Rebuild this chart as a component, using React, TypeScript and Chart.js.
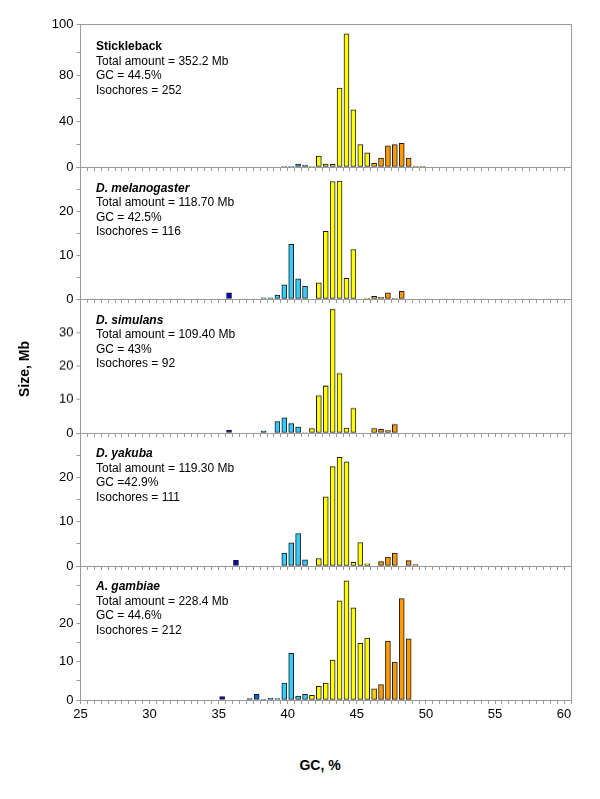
import { useEffect, useRef } from "react"
import { Chart, registerables, type Plugin } from "chart.js"

Chart.register(...registerables)

// GC bin centres (%) and isochore size (Mb) per genome
const sticklebackGC = [39.75, 40.25, 40.75, 41.25, 41.75, 42.25, 42.75, 43.25, 43.75, 44.25, 44.75, 45.25, 45.75, 46.25, 46.75, 47.25, 47.75, 48.25, 48.75, 49.25, 49.75]
const sticklebackSize = [0.5, 0.5, 2.6, 1.7, 0.5, 9.6, 2.6, 2.3, 69, 116.5, 50, 19.6, 12.3, 3.2, 7.9, 18.4, 19.6, 20.7, 7.9, 0.9, 0.5]

const melanogasterGC = [35.75, 38.25, 38.75, 39.25, 39.75, 40.25, 40.75, 41.25, 42.25, 42.75, 43.25, 43.75, 44.25, 44.75, 45.75, 46.25, 46.75, 47.25, 47.75, 48.25]
const melanogasterSize = [1.4, 0.25, 0.25, 0.9, 3.2, 12.4, 4.6, 2.9, 3.65, 15.4, 26.7, 26.8, 4.7, 11.25, 0.1, 0.6, 0.4, 1.4, 0.1, 1.75]

const simulansGC = [35.75, 38.25, 39.25, 39.75, 40.25, 40.75, 41.25, 41.75, 42.25, 42.75, 43.25, 43.75, 44.25, 44.75, 46.25, 46.75, 47.25, 47.75]
const simulansSize = [0.8, 0.6, 3.4, 4.6, 2.8, 1.8, 0.15, 1.3, 11.2, 14, 37, 17.8, 1.5, 7.35, 1.3, 1.1, 0.7, 2.5]

const yakubaGC = [36.25, 39.75, 40.25, 40.75, 41.25, 42.25, 42.75, 43.25, 43.75, 44.25, 44.75, 45.25, 45.75, 46.75, 47.25, 47.75, 48.75, 49.25]
const yakubaSize = [1.3, 2.9, 5.2, 7.3, 1.4, 1.7, 15.6, 22.4, 24.5, 23.5, 0.8, 5.3, 0.5, 1.0, 2.0, 2.9, 1.2, 0.3]

const gambiaeGC = [35.25, 37.25, 37.75, 38.25, 38.75, 39.25, 39.75, 40.25, 40.75, 41.25, 41.75, 42.25, 42.75, 43.25, 43.75, 44.25, 44.75, 45.25, 45.75, 46.25, 46.75, 47.25, 47.75, 48.25, 48.75]
const gambiaeSize = [0.9, 0.35, 1.5, 0.15, 0.45, 0.35, 4.45, 12.2, 1.0, 1.5, 1.2, 3.6, 4.45, 10.4, 25.9, 31.1, 24.1, 14.8, 16.2, 2.9, 4.0, 15.4, 9.9, 26.5, 16.0]

// axis ticks
const gcTickLabels = [25, 30, 35, 40, 45, 50, 55, 60]
const sticklebackTicks = [0, 20, 40, 60, 80, 100, 125]
const sticklebackTickLabels = ["0", "", "40", "", "80", "", "100"]
const thirtyTicks = [0, 5, 10, 15, 20, 25, 30]
const thirtyTickLabels = ["0", "", "10", "", "20", "", ""]
const fortyTicks = [0, 5, 10, 15, 20, 25, 30, 35, 40]
const fortyTickLabels = ["0", "", "10", "", "20", "", "30", "", ""]
const thirtyFiveTicks = [0, 5, 10, 15, 20, 25, 30, 35]
const thirtyFiveTickLabels = ["0", "", "10", "", "20", "", "", ""]

const FONT = "'Liberation Sans', Arial, sans-serif"
const AXIS = "#9a9a9a"
const PAD = 12

interface Panel {
  name: string
  italic: boolean
  lines: string[]
  gc: number[]
  size: number[]
  max: number
  ticks: number[]
  labels: string[]
  top: number
  bottom: number
}

const panels: Panel[] = [
  { name: "Stickleback", italic: false, lines: ["Total amount = 352.2 Mb", "GC = 44.5%", "Isochores = 252"], gc: sticklebackGC, size: sticklebackSize, max: 125, ticks: sticklebackTicks, labels: sticklebackTickLabels, top: 24.3, bottom: 167.3 },
  { name: "D. melanogaster", italic: true, lines: ["Total amount = 118.70 Mb", "GC = 42.5%", "Isochores = 116"], gc: melanogasterGC, size: melanogasterSize, max: 30, ticks: thirtyTicks, labels: thirtyTickLabels, top: 167.3, bottom: 299.3 },
  { name: "D. simulans", italic: true, lines: ["Total amount = 109.40 Mb", "GC = 43%", "Isochores = 92"], gc: simulansGC, size: simulansSize, max: 40, ticks: fortyTicks, labels: fortyTickLabels, top: 299.3, bottom: 432.7 },
  { name: "D. yakuba", italic: true, lines: ["Total amount = 119.30 Mb", "GC =42.9%", "Isochores = 111"], gc: yakubaGC, size: yakubaSize, max: 30, ticks: thirtyTicks, labels: thirtyTickLabels, top: 432.7, bottom: 565.7 },
  { name: "A. gambiae", italic: true, lines: ["Total amount = 228.4 Mb", "GC = 44.6%", "Isochores = 212"], gc: gambiaeGC, size: gambiaeSize, max: 35, ticks: thirtyFiveTicks, labels: thirtyFiveTickLabels, top: 565.7, bottom: 700 },
]

// colour of a bar by its GC class
function binColor(gc: number) {
  if (gc < 37) return "#0000cc"
  if (gc < 38) return "#0066cc"
  if (gc < 39) return "#0099cc"
  if (gc < 41.5) return "#33ccff"
  if (gc < 46) return "#ffff00"
  if (gc < 46.5) return "#ffcc00"
  return "#ff9900"
}

const framePlugin: Plugin<"bar"> = {
  id: "frame",
  afterDraw(chart, _args, opts: any) {
    const { ctx, chartArea: a } = chart
    const r = Math.round(a.right) + 0.5
    ctx.save()
    ctx.strokeStyle = AXIS
    ctx.lineWidth = 1
    ctx.beginPath()
    ctx.moveTo(r, a.top)
    ctx.lineTo(r, a.bottom)
    if (opts.top) {
      const t = Math.round(a.top) + 0.5
      ctx.moveTo(a.left, t)
      ctx.lineTo(r, t)
    }
    ctx.stroke()
    ctx.restore()
  },
}

function PanelChart({ panel, first, last }: { panel: Panel; first: boolean; last: boolean }) {
  const chartRef = useRef<HTMLCanvasElement>(null)
  const height = panel.bottom - panel.top + PAD + (last ? 30 : PAD)

  useEffect(() => {
    if (!chartRef.current) return
    const ctx = chartRef.current.getContext("2d")
    if (!ctx) return

    const bins = Array.from({ length: 72 }, (_, i) => 25 + i * 0.5)

    const chart = new Chart(ctx, {
      type: "bar",
      data: {
        datasets: [
          {
            data: panel.gc.map((x, i) => ({ x, y: panel.size[i] })) as any,
            backgroundColor: (c: any) => binColor(c.raw ? c.raw.x : 44),
            borderColor: "#1a1a1a",
            borderWidth: 1,
            borderSkipped: false,
            barThickness: 5,
            grouped: false,
          },
        ],
      },
      options: {
        animation: false,
        responsive: false,
        layout: { padding: { top: PAD, right: 29, left: 0, bottom: 0 } },
        plugins: {
          legend: { display: false },
          tooltip: { enabled: false },
          frame: { top: first },
        } as any,
        scales: {
          x: {
            type: "linear",
            min: 25,
            max: 60.5,
            offset: false,
            afterFit: (s: any) => {
              s.height = last ? 30 : PAD
            },
            afterBuildTicks: (s: any) => {
              s.ticks = bins.map((value) => ({ value }))
            },
            ticks: {
              display: last,
              autoSkip: false,
              maxRotation: 0,
              padding: 3,
              color: "#000",
              font: { family: FONT, size: 13 },
              callback: (v: any) => (gcTickLabels.includes(Number(v)) ? String(v) : ""),
            },
            grid: { drawOnChartArea: false, offset: false, tickLength: 4, color: AXIS },
            border: { color: AXIS },
          },
          y: {
            min: 0,
            max: panel.max,
            afterFit: (s: any) => {
              s.width = 80.5
            },
            afterBuildTicks: (s: any) => {
              s.ticks = panel.ticks.map((value) => ({ value }))
            },
            ticks: {
              padding: 3,
              color: "#000",
              font: { family: FONT, size: 13 },
              callback: (_v: any, i: number) => panel.labels[i],
            },
            grid: { drawOnChartArea: false, tickLength: 4, color: AXIS },
            border: { color: AXIS },
          },
        },
      },
      plugins: [framePlugin],
    })

    return () => chart.destroy()
  }, [panel, first, last])

  return (
    <>
      <canvas
        ref={chartRef}
        width={600}
        height={height}
        style={{ position: "absolute", left: 0, top: panel.top - PAD, width: 600, height }}
      />
      <div
        style={{
          position: "absolute",
          left: 96,
          top: panel.top + (first ? 15 : 13.5),
          fontFamily: FONT,
          fontSize: 12,
          lineHeight: "14.5px",
          color: "#000",
          whiteSpace: "nowrap",
        }}
      >
        <div style={{ fontWeight: "bold", fontStyle: panel.italic ? "italic" : "normal" }}>{panel.name}</div>
        {panel.lines.map((l) => (
          <div key={l}>{l}</div>
        ))}
      </div>
    </>
  )
}

export default function App() {
  return (
    <div style={{ position: "fixed", left: 0, top: 0, width: 600, height: 799, background: "#fff" }}>
      {panels.map((p, i) => (
        <PanelChart key={p.name} panel={p} first={i === 0} last={i === panels.length - 1} />
      ))}
      <div
        style={{
          position: "absolute",
          left: 24.3,
          top: 369,
          transform: "translate(-50%, -50%) rotate(-90deg)",
          fontFamily: FONT,
          fontWeight: "bold",
          fontSize: 14,
          whiteSpace: "nowrap",
        }}
      >
        Size, Mb
      </div>
      <div
        style={{
          position: "absolute",
          left: 320,
          top: 765,
          transform: "translate(-50%, -50%)",
          fontFamily: FONT,
          fontWeight: "bold",
          fontSize: 14,
          whiteSpace: "nowrap",
        }}
      >
        GC, %
      </div>
    </div>
  )
}
